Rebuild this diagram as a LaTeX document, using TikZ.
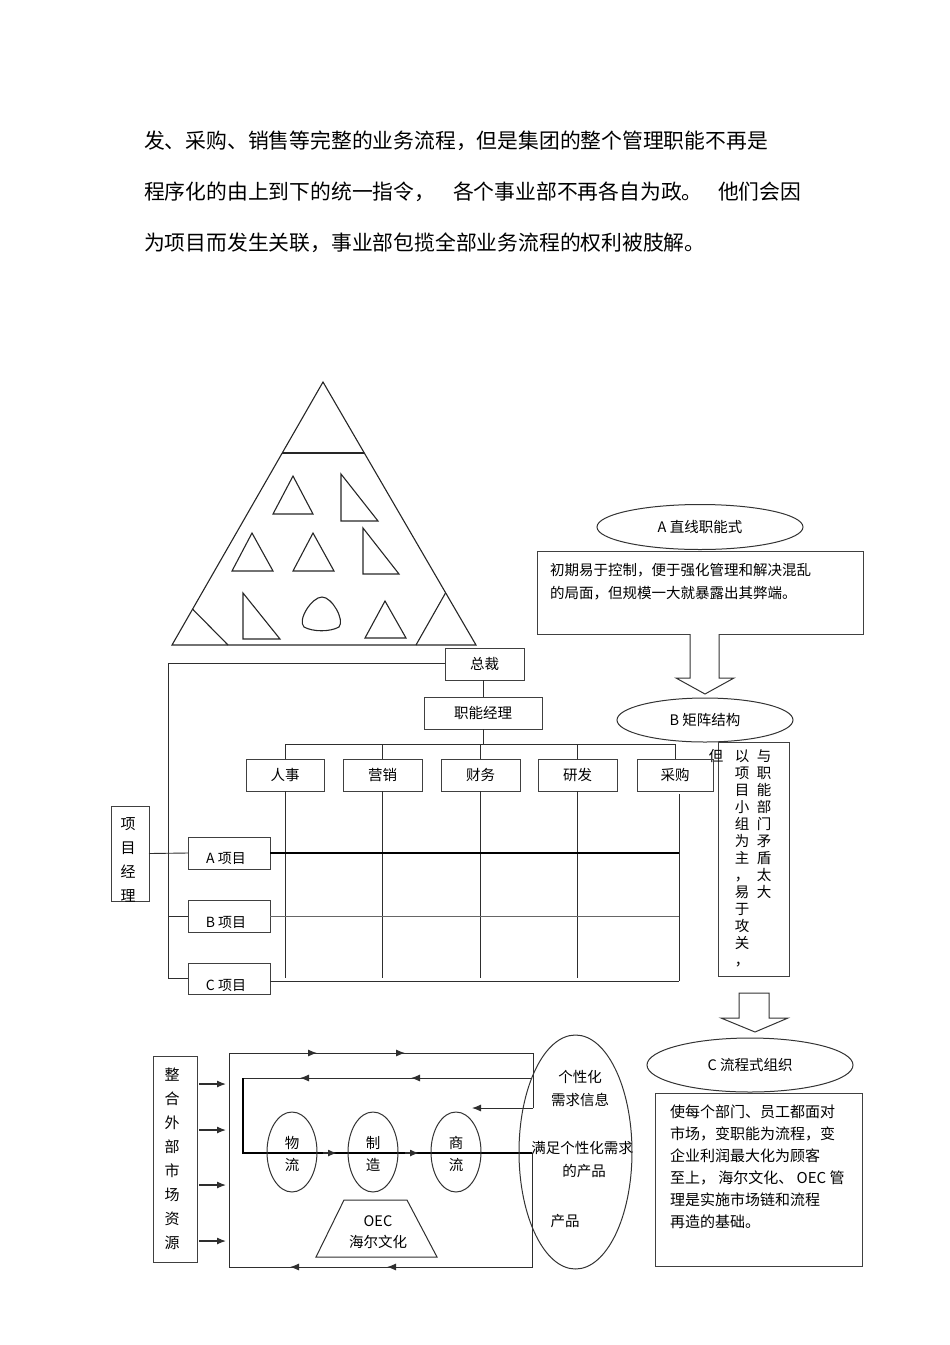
\documentclass[tikz,border=0pt]{standalone}
\usepackage{fontspec}
\setmainfont{Noto Sans CJK SC}
\usetikzlibrary{shapes.geometric,arrows.meta}
\begin{document}
\begin{tikzpicture}[x=1pt,y=-1pt,
  every node/.style={inner sep=0pt,outer sep=0pt},
  ln/.style={draw=black!82,line width=0.9pt},
  lng/.style={draw=black!60,line width=0.9pt},
  thk/.style={draw=black,line width=1.8pt},
  tri/.style={draw=black!85,line width=1.1pt,line join=miter},
  bx/.style={rectangle,draw=black!75,line width=1pt},
  elp/.style={ellipse,draw=black!80,line width=1pt},
  hollow/.style={draw=black!80,line width=1pt,fill=white},
  ft/.style={font=\fontsize{20.8}{25}\selectfont},
  fs/.style={font=\fontsize{14.5}{17}\selectfont},
  fm/.style={font=\fontsize{15}{22}\selectfont},
  arr/.style={ln,-{Latex[length=9pt,width=7pt]}},
]
\useasboundingbox (0,0) rectangle (950,1345);

% ---------- top paragraph ----------
\node[ft,anchor=west] (t1) at (144,141) {发、采购、销售等完整的业务流程，但是集团的整个管理职能不再是};
\node[ft,anchor=west] (t2a) at (144,192) {程序化的由上到下的统一指令，};
\node[ft,anchor=west] (t2b) at (453,192) {各个事业部不再各自为政。};
\node[ft,anchor=west] (t2c) at (718,192) {他们会因};
\node[ft,anchor=west] (t3) at (144,243) {为项目而发生关联，事业部包揽全部业务流程的权利被肢解。};

% ---------- pyramid ----------
\coordinate (tA) at (323,382);
\coordinate (tL) at (172,645);
\coordinate (tR) at (476,645);
\draw[tri] (tA) -- (tL) -- (tR) -- cycle;
\draw[tri] (282,453) -- (364,453);
\draw[tri] (293,476) -- (273,514) -- (313,514) -- cycle;
\draw[tri] (341,474) -- (341,521) -- (378,521) -- cycle;
\draw[tri] (252,533) -- (232,571) -- (273,571) -- cycle;
\draw[tri] (313,533) -- (293,571) -- (334,571) -- cycle;
\draw[tri] (363,528) -- (363,574) -- (399,574) -- cycle;
\draw[tri] (243,593) -- (243,639) -- (280,639) -- cycle;
\draw[tri] (304,627) .. controls (297,620) and (312,597) .. (322,597)
  .. controls (332,597) and (345,620) .. (339,627)
  .. controls (330,632) and (313,632) .. (304,627) -- cycle;
\draw[tri] (385,601) -- (365,638) -- (406,638) -- cycle;
\draw[tri] (192.5,609) -- (228,645);
\draw[tri] (445.5,593) -- (416,645);

% ---------- right column ----------
\node[elp,fs,minimum width=206pt,minimum height=45pt] (ea) at (700,527) {A 直线职能式};
\node[bx,minimum width=326pt,minimum height=83pt] (ba) at (700,592.5) {};
\node[fs,anchor=west] (ba1) at (550,570) {初期易于控制，便于强化管理和解决混乱};
\node[fs,anchor=west] (ba2) at (550,593) {的局面，但规模一大就暴露出其弊端。};

\draw[hollow] (690,634) -- (690,678) -- (676,678) -- (705,694) -- (734,678) -- (719,678) -- (719,634);

\node[elp,fs,minimum width=176pt,minimum height=44pt] (eb) at (705,720) {B 矩阵结构};
\node[bx,minimum width=71pt,minimum height=234pt] (bb) at (753.5,859) {};
\node[fs,align=center,anchor=north] (bbr) at (764,749.5) {与\\职\\能\\部\\门\\矛\\盾\\太\\大};
\node[fs,align=center,anchor=north] (bbl) at (742,749.5) {以\\项\\目\\小\\组\\为\\主\\，\\易\\于\\攻\\关\\，};
\node[fs] (dan) at (716,756) {但};

\draw[hollow] (739,993) -- (739,1018) -- (721,1018) -- (755,1032) -- (788,1018) -- (769,1018) -- (769,993) -- cycle;

\node[elp,fs,minimum width=206pt,minimum height=54pt] (ec) at (750,1065) {C 流程式组织};
\node[bx,minimum width=207pt,minimum height=173pt] (bc) at (758.5,1179.5) {};
\node[fm,align=left,anchor=north west] (bct) at (670,1105) {使每个部门、员工都面对\\市场，变职能为流程，变\\企业利润最大化为顾客\\至上， 海尔文化、 OEC 管\\理是实施市场链和流程\\再造的基础。};

% ---------- matrix org chart ----------
\node[bx,fs,minimum width=79pt,minimum height=32pt] (zc) at (484.5,664) {总裁};
\node[bx,fs,minimum width=118pt,minimum height=32pt] (zn) at (483,713) {职能经理};
\node[bx,fs,minimum width=78pt,minimum height=32pt] (d1) at (285,775) {人事};
\node[bx,fs,minimum width=79pt,minimum height=32pt] (d2) at (382.5,775) {营销};
\node[bx,fs,minimum width=79pt,minimum height=32pt] (d3) at (480.5,775) {财务};
\node[bx,fs,minimum width=79pt,minimum height=32pt] (d4) at (577.5,775) {研发};
\node[bx,fs,minimum width=76pt,minimum height=32pt] (d5) at (675,775) {采购};

\node[bx,minimum width=38pt,minimum height=95pt] (pm) at (130,853.5) {};
\node[fm,align=center,anchor=north,font=\fontsize{15}{24}\selectfont] (pmt) at (128,817.5) {项\\目\\经\\理};

\node[bx,minimum width=82pt,minimum height=32pt] (pa) at (229,853) {};
\node[bx,minimum width=82pt,minimum height=32pt] (pb) at (229,916) {};
\node[bx,minimum width=82pt,minimum height=31pt] (pc) at (229,978.5) {};
\node[fs,font=\fontsize{14}{17}\selectfont] (pat) at (226,858.5) {A 项目};
\node[fs,font=\fontsize{14}{17}\selectfont] (pbt) at (226,922.5) {B 项目};
\node[fs,font=\fontsize{14}{17}\selectfont] (pct) at (226,985) {C 项目};

\coordinate (lc) at (168,663);
\coordinate (bar) at (0,744);
\coordinate (gb) at (0,978);
\coordinate (rt) at (679,794);
\coordinate (rb) at (679,981);

\draw[ln] (zc.west |- lc) -- (lc) |- (pc.west);
\draw[ln] (lc |- pb.west) -- (pb.west);
\draw[ln] (pm.east) -- (pa.west);
\draw[ln] (zc.south -| zn.north) -- (zn.north);
\draw[ln] (zn.south) -- (zn.south |- bar);
\draw[ln] (d1.north) -- (d1.north |- bar) -- (d5.north |- bar) -- (d5.north);
\draw[ln] (d2.north) -- (d2.north |- bar);
\draw[ln] (d3.north) -- (d3.north |- bar);
\draw[ln] (d4.north) -- (d4.north |- bar);
\draw[ln] (d1.south) -- (d1.south |- gb);
\draw[ln] (d2.south) -- (d2.south |- gb);
\draw[ln] (d3.south) -- (d3.south |- gb);
\draw[ln] (d4.south) -- (d4.south |- gb);
\draw[ln] (rt) -- (rb);
\draw[thk] (pa.east) -- (pa.east -| rt);
\draw[lng] (pb.east) -- (pb.east -| rt);
\draw[ln] (pc.east |- rb) -- (rb);

% ---------- process diagram ----------
\node[bx,minimum width=44pt,minimum height=206pt] (zh) at (175,1159) {};
\node[align=center,anchor=north,font=\fontsize{15}{24}\selectfont] (zht) at (172,1067.5) {整\\合\\外\\部\\市\\场\\资\\源};

\coordinate (r1) at (229,1053);
\coordinate (r2) at (533,1053);
\coordinate (r3) at (533,1108);
\coordinate (r4) at (532,1153);
\coordinate (r5) at (532,1267);
\coordinate (r6) at (229,1267);
\coordinate (q1) at (532,1078);
\coordinate (q2) at (243,1078);
\coordinate (q3) at (243,1153);
\coordinate (q4) at (472,1108);

\draw[ln] (r3) -- (r2) -- (r1) -- (r6) -- (r5) -- (r4);
\draw[ln] (q1) -- (q2);
\draw[thk,line width=1.6pt] (q2) -- (q3) -- (r4);
\draw[arr] (r3) -- (q4);

\foreach \yy in {1084,1130,1185,1241}
  \draw[arr,line width=1.2pt,shorten <=2pt,shorten >=3pt] (zh.east |- 0,\yy) -- (r1 |- 0,\yy);

\foreach \xx in {317,405}
  \draw[arr] (\xx-14,1053) -- (\xx,1053);
\foreach \xx in {300,411}
  \draw[arr] (\xx+14,1078) -- (\xx,1078);
\foreach \xx in {337,419}
  \draw[arr,line width=1.4pt] (\xx-14,1153) -- (\xx,1153);
\foreach \xx in {290,387}
  \draw[arr] (\xx+14,1267) -- (\xx,1267);

\node[elp,minimum width=50pt,minimum height=80pt] (o1) at (292,1152) {};
\node[elp,minimum width=50pt,minimum height=80pt] (o2) at (373,1152) {};
\node[elp,minimum width=50pt,minimum height=80pt] (o3) at (456,1152) {};
\node[fs,align=center,font=\fontsize{14.5}{22}\selectfont] (o1t) at (292,1154) {物\\流};
\node[fs,align=center,font=\fontsize{14.5}{22}\selectfont] (o2t) at (373,1154) {制\\造};
\node[fs,align=center,font=\fontsize{14.5}{22}\selectfont] (o3t) at (456,1154) {商\\流};

\draw[ln,line width=1pt] (344,1200) -- (407,1200) -- (437,1257) -- (316,1257) -- cycle;
\node[fs] (oec) at (378,1221) {OEC};
\node[fs] (hr) at (378,1242) {海尔文化};

\node[elp,minimum width=113pt,minimum height=234pt] (ge) at (575.5,1152) {};
\node[fs] (g1) at (580,1077) {个性化};
\node[fs] (g2) at (580,1100) {需求信息};
\node[fs] (g3) at (582,1148) {满足个性化需求};
\node[fs] (g4) at (584,1171) {的产品};
\node[fs] (g5) at (565,1221) {产品};

\end{tikzpicture}
\end{document}
